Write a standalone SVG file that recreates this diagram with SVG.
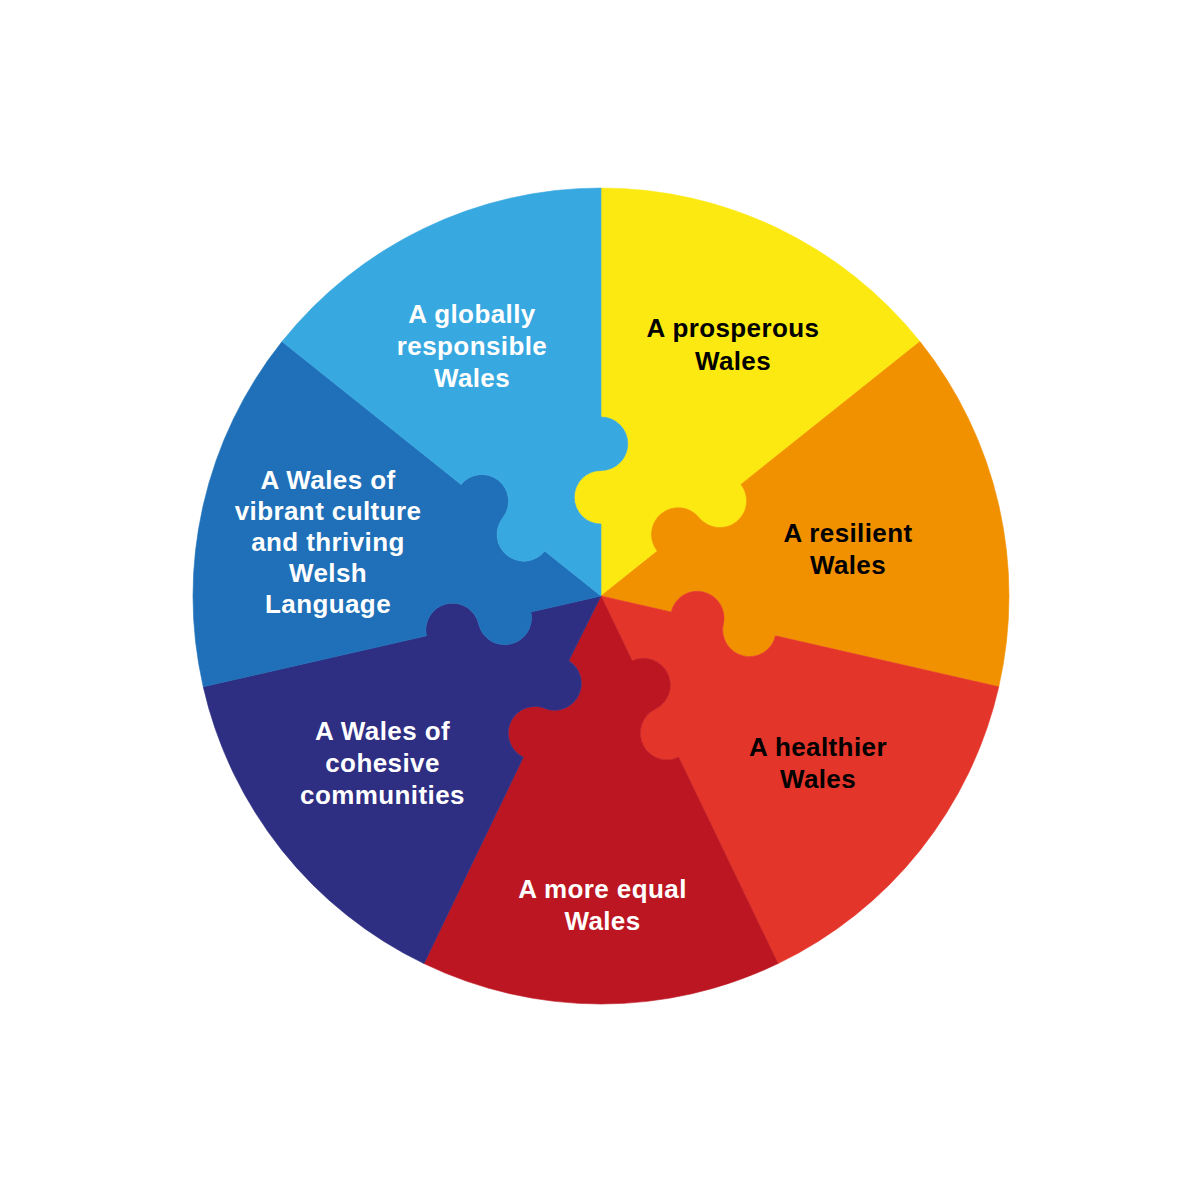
<svg xmlns="http://www.w3.org/2000/svg" width="1200" height="1200" viewBox="0 0 1200 1200">
<style>
.pc{stroke-width:0.6;stroke-linejoin:round}
.lbl{font-family:"Liberation Sans",Arial,Helvetica,sans-serif;font-weight:bold;font-size:26px;letter-spacing:0.4px;text-anchor:middle}
.dk{fill:#000000}
.lt{fill:#FFFFFF}
</style>
<rect width="1200" height="1200" fill="#FFFFFF"/>
<g id="prosperous">
<path class="pc" fill="#FCE911" stroke="#FCE911" d="M601 596 L601 524 A26.75 26.75 0 0 1 601 470.5 A26.75 26.75 0 0 0 601 417 L601 188 A408 408 0 0 1 919.99 341.62 L740.95 484.4 A26.75 26.75 0 0 1 699.12 517.75 A26.75 26.75 0 0 0 657.29 551.11 Z"/>
<text class="lbl dk" x="733" y="337">A prosperous</text>
<text class="lbl dk" x="733" y="369.5">Wales</text>
</g>
<g id="resilient">
<path class="pc" fill="#F29100" stroke="#F29100" d="M601 596 L657.29 551.11 A26.75 26.75 0 0 1 699.12 517.75 A26.75 26.75 0 0 0 740.95 484.4 L919.99 341.62 A408 408 0 0 1 998.77 686.79 L775.51 635.83 A26.75 26.75 0 0 1 723.35 623.93 A26.75 26.75 0 0 0 671.19 612.02 Z"/>
<text class="lbl dk" x="848" y="541.5">A resilient</text>
<text class="lbl dk" x="848" y="574">Wales</text>
</g>
<g id="healthier">
<path class="pc" fill="#E4352A" stroke="#E4352A" d="M601 596 L671.19 612.02 A26.75 26.75 0 0 1 723.35 623.93 A26.75 26.75 0 0 0 775.51 635.83 L998.77 686.79 A408 408 0 0 1 778.02 963.6 L678.67 757.27 A26.75 26.75 0 0 1 655.45 709.07 A26.75 26.75 0 0 0 632.24 660.87 Z"/>
<text class="lbl dk" x="818" y="755.5">A healthier</text>
<text class="lbl dk" x="818" y="788">Wales</text>
</g>
<g id="more-equal">
<path class="pc" fill="#BC1622" stroke="#BC1622" d="M601 596 L632.24 660.87 A26.75 26.75 0 0 1 655.45 709.07 A26.75 26.75 0 0 0 678.67 757.27 L778.02 963.6 A408 408 0 0 1 423.98 963.6 L523.33 757.27 A26.75 26.75 0 0 1 546.55 709.07 A26.75 26.75 0 0 0 568.76 660.87 Z"/>
<text class="lbl lt" x="602.5" y="897.5">A more equal</text>
<text class="lbl lt" x="602.5" y="930">Wales</text>
</g>
<g id="cohesive">
<path class="pc" fill="#2E2E83" stroke="#2E2E83" d="M601 596 L568.76 660.87 A26.75 26.75 0 0 1 546.55 709.07 A26.75 26.75 0 0 0 523.33 757.27 L423.98 963.6 A408 408 0 0 1 203.23 686.79 L426.49 635.83 A26.75 26.75 0 0 1 478.65 623.93 A26.75 26.75 0 0 0 530.81 612.02 Z"/>
<text class="lbl lt" x="382.5" y="740">A Wales of</text>
<text class="lbl lt" x="382.5" y="772">cohesive</text>
<text class="lbl lt" x="382.5" y="804">communities</text>
</g>
<g id="culture">
<path class="pc" fill="#1F70B8" stroke="#1F70B8" d="M601 596 L530.81 612.02 A26.75 26.75 0 0 1 478.65 623.93 A26.75 26.75 0 0 0 426.49 635.83 L203.23 686.79 A408 408 0 0 1 282.01 341.62 L461.05 484.4 A26.75 26.75 0 0 1 502.88 517.75 A26.75 26.75 0 0 0 544.71 551.11 Z"/>
<text class="lbl lt" x="328" y="489">A Wales of</text>
<text class="lbl lt" x="328" y="520">vibrant culture</text>
<text class="lbl lt" x="328" y="551">and thriving</text>
<text class="lbl lt" x="328" y="582">Welsh</text>
<text class="lbl lt" x="328" y="613">Language</text>
</g>
<g id="globally">
<path class="pc" fill="#38A8E0" stroke="#38A8E0" d="M601 596 L544.71 551.11 A26.75 26.75 0 0 1 502.88 517.75 A26.75 26.75 0 0 0 461.05 484.4 L282.01 341.62 A408 408 0 0 1 601 188 L601 417 A26.75 26.75 0 0 1 601 470.5 A26.75 26.75 0 0 0 601 524 Z"/>
<text class="lbl lt" x="472" y="323">A globally</text>
<text class="lbl lt" x="472" y="355">responsible</text>
<text class="lbl lt" x="472" y="387">Wales</text>
</g>
<g id="connectors"></g>
</svg>
